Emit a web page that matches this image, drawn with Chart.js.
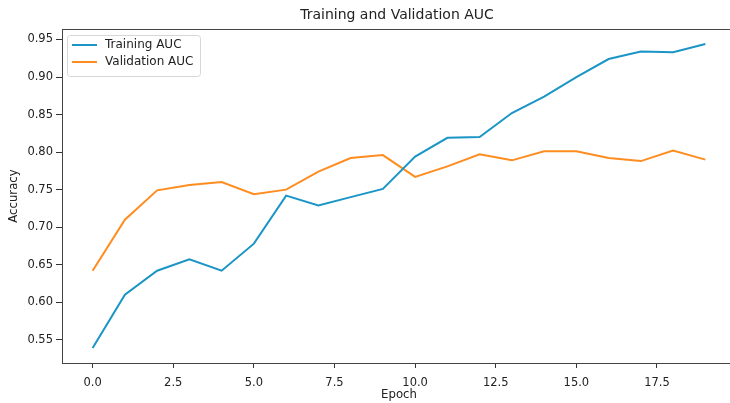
<!DOCTYPE html>
<html>
<head>
<meta charset="utf-8">
<script src="https://cdn.jsdelivr.net/npm/chart.js@4"></script>
<style>
html,body{margin:0;padding:0;background:#fff;overflow:hidden;width:730px;height:403px;}
canvas{display:block;}
</style>
</head>
<body>
<canvas id="c" width="740" height="403"></canvas>
<script>
const epochs = [0,1,2,3,4,5,6,7,8,9,10,11,12,13,14,15,16,17,18,19];
const trainingAUC = [0.539,0.610,0.642,0.657,0.642,0.678,0.742,0.729,0.740,0.751,0.794,0.819,0.820,0.852,0.874,0.900,0.924,0.934,0.933,0.944];
const validationAUC = [0.642,0.710,0.749,0.756,0.760,0.744,0.750,0.774,0.792,0.796,0.767,0.781,0.797,0.789,0.801,0.801,0.792,0.788,0.802,0.790];
const xTicks = [0,2.5,5,7.5,10,12.5,15,17.5];
const yTicks = [0.55,0.60,0.65,0.70,0.75,0.80,0.85,0.90,0.95];
const chartTitle = "Training and Validation AUC";
const xTitle = "Epoch";
const yTitle = "Accuracy";
const seriesLabels = ["Training AUC","Validation AUC"];
const colors = ["#1a95c6","#ff8c1f"];

const FONT = "'DejaVu Sans', sans-serif";

const framePlugin = {
  id: 'frame',
  afterDraw(chart) {
    const {ctx, chartArea: a} = chart;
    ctx.save();
    ctx.strokeStyle = '#444';
    ctx.lineWidth = 1;
    ctx.strokeRect(Math.round(a.left)+0.5, Math.round(a.top)+0.5, Math.round(a.right-a.left), Math.round(a.bottom-a.top));
    ctx.fillStyle = '#222';
    ctx.textAlign = 'center';
    ctx.textBaseline = 'middle';
    ctx.font = '14px ' + FONT;
    ctx.fillText(chartTitle, (a.left + a.right)/2 - 2, 15);
    ctx.font = '11.7px ' + FONT;
    ctx.fillText(xTitle, (a.left + a.right)/2, 395);
    ctx.save();
    ctx.translate(14, (a.top + a.bottom)/2);
    ctx.rotate(-Math.PI/2);
    ctx.fillText(yTitle, 0, 0);
    ctx.restore();
    const lx = 67, ly = 35, lw = 133, lh = 41;
    ctx.fillStyle = 'rgba(255,255,255,0.85)';
    ctx.strokeStyle = '#d6d6d6';
    ctx.lineWidth = 1;
    ctx.beginPath();
    if (ctx.roundRect) ctx.roundRect(lx+0.5, ly+0.5, lw, lh, 3); else ctx.rect(lx+0.5, ly+0.5, lw, lh);
    ctx.fill();
    ctx.stroke();
    chart.data.datasets.forEach((ds, i) => {
      const y = 45 + i*17;
      ctx.strokeStyle = ds.borderColor;
      ctx.lineWidth = 2;
      ctx.beginPath();
      ctx.moveTo(72, y);
      ctx.lineTo(97, y);
      ctx.stroke();
      ctx.fillStyle = '#222';
      ctx.textAlign = 'left';
      ctx.font = '12px ' + FONT;
      ctx.fillText(ds.label, 105, y);
    });
    ctx.restore();
  }
};

new Chart(document.getElementById('c'), {
  type: 'line',
  data: {
    datasets: [
      { label: seriesLabels[0], data: epochs.map((e,i)=>({x:e, y:trainingAUC[i]})), borderColor: colors[0], backgroundColor: colors[0], borderWidth: 2, pointRadius: 0, tension: 0, fill: false },
      { label: seriesLabels[1], data: epochs.map((e,i)=>({x:e, y:validationAUC[i]})), borderColor: colors[1], backgroundColor: colors[1], borderWidth: 2, pointRadius: 0, tension: 0, fill: false }
    ]
  },
  options: {
    responsive: false,
    animation: false,
    devicePixelRatio: 1,
    layout: { padding: { top: 29, right: 4, left: 0, bottom: 0 } },
    plugins: { legend: { display: false }, title: { display: false }, tooltip: { enabled: false } },
    scales: {
      x: {
        type: 'linear',
        min: -0.95, max: 19.95,
        afterFit(s) { s.height = 40; },
        afterBuildTicks(s) { s.ticks = xTicks.map(v => ({value: v})); },
        grid: { drawOnChartArea: false, drawTicks: true, tickLength: 5, color: '#333', tickColor: '#333' },
        border: { display: false },
        ticks: { padding: 8, color: '#222', font: { family: FONT, size: 11.5 }, maxRotation: 0, autoSkip: false, callback: v => Number(v).toFixed(1) }
      },
      y: {
        type: 'linear',
        min: 0.519, max: 0.964,
        afterFit(s) { s.width = 62; },
        afterBuildTicks(s) { s.ticks = yTicks.map(v => ({value: v})); },
        grid: { drawOnChartArea: false, drawTicks: true, tickLength: 6, color: '#333', tickColor: '#333' },
        border: { display: false },
        ticks: { padding: 3, color: '#222', font: { family: FONT, size: 11.5 }, autoSkip: false, callback: v => Number(v).toFixed(2) }
      }
    }
  },
  plugins: [framePlugin]
});
</script>
</body>
</html>
